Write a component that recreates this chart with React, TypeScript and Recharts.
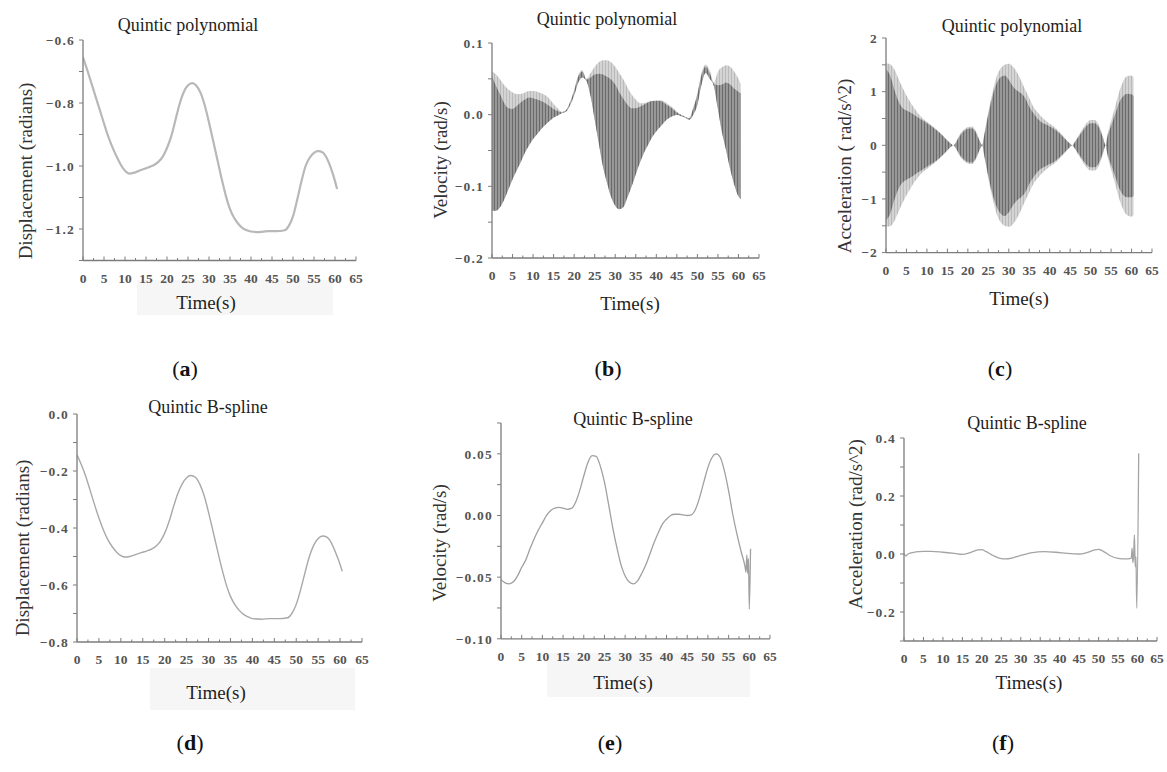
import React from 'react';
import { ComposedChart, Line, Area, XAxis, YAxis } from 'recharts';

const SERIF = "'Liberation Serif', 'Times New Roman', serif";
const AXIS = '#7c7c7c';
const TICK_TXT = '#555';

// time axis, shared by all six panels
const timeTicks = [0, 2.5, 5, 7.5, 10, 12.5, 15, 17.5, 20, 22.5, 25, 27.5, 30, 32.5, 35, 37.5, 40, 42.5, 45, 47.5, 50, 52.5, 55, 57.5, 60, 62.5, 65];

// (a) quintic polynomial displacement
const tA = [0, 1, 2, 3, 4, 5, 6, 7, 8, 9, 10, 11, 12, 13, 14, 15, 16, 17, 18, 19, 20, 21, 22, 23, 24, 25, 26, 27, 28, 29, 30, 31, 32, 33, 34, 35, 36, 37, 38, 39, 40, 42, 44, 46, 48, 49, 50, 51, 52, 53, 54, 55, 56, 57, 58, 59, 60, 60.5];
const dispPoly = [-0.655, -0.695, -0.737, -0.78, -0.822, -0.865, -0.906, -0.94, -0.97, -0.996, -1.015, -1.024, -1.022, -1.017, -1.012, -1.007, -1.002, -0.996, -0.986, -0.97, -0.943, -0.906, -0.855, -0.803, -0.765, -0.744, -0.737, -0.745, -0.768, -0.808, -0.862, -0.921, -0.98, -1.04, -1.094, -1.137, -1.165, -1.184, -1.197, -1.204, -1.208, -1.21, -1.207, -1.207, -1.204, -1.19, -1.16, -1.107, -1.049, -1.0, -0.973, -0.958, -0.953, -0.956, -0.974, -1.006, -1.048, -1.073];
const yTicksA = [-1.3, -1.2, -1.1, -1.0, -0.9, -0.8, -0.7, -0.6];
const yLabelsA = [-1.2, -1.0, -0.8, -0.6];

// (b) quintic polynomial velocity: dense oscillation envelopes
const tB = [0, 1, 2, 3, 4, 5, 6, 7, 8, 9, 10, 11, 12, 13, 14, 15, 16, 17, 18, 19, 20, 21, 22, 23, 24, 25, 26, 27, 28, 29, 30, 31, 32, 33, 34, 35, 36, 37, 38, 39, 40, 41, 42, 43, 44, 45, 46, 47, 48, 49, 50, 51, 52, 53, 54, 55, 56, 57, 58, 59, 60, 60.5];
const bLightTop = [0.061, 0.056, 0.049, 0.041, 0.035, 0.031, 0.029, 0.029, 0.031, 0.033, 0.033, 0.032, 0.03, 0.027, 0.022, 0.015, 0.009, 0.004, 0.006, 0.018, 0.035, 0.055, 0.062, 0.05, 0.058, 0.067, 0.073, 0.076, 0.076, 0.073, 0.067, 0.058, 0.049, 0.038, 0.028, 0.021, 0.016, 0.016, 0.018, 0.019, 0.02, 0.02, 0.018, 0.014, 0.01, 0.004, 0.0, -0.003, -0.005, 0.01, 0.03, 0.058, 0.07, 0.062, 0.045, 0.06, 0.066, 0.069, 0.067, 0.06, 0.05, 0.043];
const bDarkTop = [0.054, 0.04, 0.028, 0.016, 0.009, 0.008, 0.012, 0.017, 0.021, 0.024, 0.023, 0.021, 0.019, 0.016, 0.012, 0.008, 0.005, 0.003, 0.006, 0.017, 0.033, 0.053, 0.06, 0.049, 0.052, 0.056, 0.057, 0.056, 0.053, 0.049, 0.042, 0.031, 0.022, 0.014, 0.009, 0.009, 0.011, 0.014, 0.017, 0.019, 0.019, 0.019, 0.016, 0.012, 0.008, 0.003, 0.0, -0.003, -0.005, 0.009, 0.028, 0.055, 0.067, 0.058, 0.043, 0.041, 0.042, 0.045, 0.042, 0.036, 0.032, 0.03];
const bLower = [-0.134, -0.134, -0.129, -0.118, -0.104, -0.09, -0.078, -0.066, -0.053, -0.043, -0.034, -0.027, -0.02, -0.014, -0.009, -0.004, -0.001, 0.002, 0.004, 0.013, 0.027, 0.045, 0.052, 0.047, 0.026, -0.007, -0.04, -0.072, -0.095, -0.115, -0.127, -0.132, -0.129, -0.115, -0.1, -0.083, -0.067, -0.053, -0.042, -0.031, -0.023, -0.017, -0.01, -0.005, -0.002, 0.0, -0.002, -0.004, -0.007, 0.0, 0.014, 0.042, 0.058, 0.05, 0.04, 0.008, -0.025, -0.05, -0.076, -0.098, -0.114, -0.118];
const yTicksB = [-0.2, -0.15, -0.1, -0.05, 0, 0.05, 0.1];
const yLabelsB = [-0.2, -0.1, 0, 0.1];

// (c) quintic polynomial acceleration: dense oscillation envelopes
const tC = [0, 1, 2, 3, 4, 5, 6, 7, 8, 9, 10, 11, 12, 13, 14, 15, 16, 16.5, 17, 18, 19, 20, 21, 22, 23, 23.5, 24, 25, 26, 27, 28, 29, 30, 31, 32, 33, 34, 35, 36, 37, 38, 39, 40, 41, 42, 43, 44, 45, 45.5, 46, 47, 48, 49, 50, 51, 52, 53, 53.7, 54, 55, 56, 57, 58, 59, 60, 60.5];
const cOuterTop = [1.53, 1.51, 1.42, 1.25, 1.08, 0.93, 0.8, 0.68, 0.58, 0.5, 0.44, 0.38, 0.32, 0.25, 0.17, 0.09, 0.02, 0, 0.05, 0.2, 0.29, 0.34, 0.35, 0.26, 0.07, 0, 0.2, 0.62, 0.98, 1.27, 1.43, 1.5, 1.52, 1.47, 1.36, 1.21, 1.04, 0.88, 0.72, 0.62, 0.53, 0.46, 0.4, 0.35, 0.28, 0.2, 0.11, 0.03, 0, 0.05, 0.18, 0.3, 0.41, 0.47, 0.47, 0.38, 0.17, 0, 0.15, 0.45, 0.72, 1.0, 1.2, 1.29, 1.3, 1.26];
const cInnerTop = [1.42, 1.3, 1.05, 0.83, 0.7, 0.65, 0.61, 0.56, 0.51, 0.46, 0.41, 0.36, 0.3, 0.24, 0.17, 0.09, 0.02, 0, 0.04, 0.17, 0.26, 0.31, 0.32, 0.23, 0.06, 0, 0.18, 0.57, 0.9, 1.15, 1.27, 1.3, 1.22, 1.1, 1.02, 0.97, 0.88, 0.72, 0.6, 0.5, 0.43, 0.39, 0.35, 0.31, 0.25, 0.18, 0.1, 0.03, 0, 0.04, 0.15, 0.26, 0.36, 0.41, 0.41, 0.33, 0.14, 0, 0.12, 0.36, 0.58, 0.8, 0.92, 0.96, 0.95, 0.92];
const cInnerBot = [-1.4, -1.28, -1.03, -0.82, -0.7, -0.64, -0.6, -0.55, -0.5, -0.45, -0.4, -0.35, -0.3, -0.24, -0.17, -0.09, -0.02, 0, -0.04, -0.17, -0.26, -0.31, -0.32, -0.23, -0.06, 0, -0.18, -0.57, -0.9, -1.14, -1.27, -1.32, -1.25, -1.12, -1.03, -0.97, -0.88, -0.72, -0.6, -0.5, -0.43, -0.39, -0.35, -0.31, -0.25, -0.18, -0.1, -0.03, 0, -0.04, -0.15, -0.26, -0.36, -0.41, -0.41, -0.33, -0.14, 0, -0.12, -0.36, -0.58, -0.8, -0.93, -0.97, -0.97, -0.94];
const cOuterBot = [-1.52, -1.51, -1.42, -1.25, -1.08, -0.93, -0.8, -0.68, -0.58, -0.5, -0.44, -0.38, -0.32, -0.25, -0.17, -0.09, -0.02, 0, -0.05, -0.2, -0.29, -0.34, -0.35, -0.26, -0.07, 0, -0.2, -0.62, -0.98, -1.27, -1.43, -1.5, -1.52, -1.47, -1.36, -1.21, -1.04, -0.88, -0.72, -0.62, -0.53, -0.46, -0.4, -0.35, -0.28, -0.2, -0.11, -0.03, 0, -0.05, -0.18, -0.3, -0.41, -0.47, -0.47, -0.38, -0.17, 0, -0.15, -0.45, -0.72, -1.0, -1.2, -1.31, -1.33, -1.3];
const yTicksC = [-2, -1.5, -1, -0.5, 0, 0.5, 1, 1.5, 2];
const yLabelsC = [-2, -1, 0, 1, 2];

// (d) quintic B-spline displacement
const tD = [0, 1, 2, 3, 4, 5, 6, 7, 8, 9, 10, 11, 12, 13, 14, 15, 16, 17, 18, 19, 20, 21, 22, 23, 24, 25, 26, 27, 28, 29, 30, 31, 32, 33, 34, 35, 36, 37, 38, 39, 40, 42, 44, 46, 48, 49, 50, 51, 52, 53, 54, 55, 56, 57, 58, 59, 60, 60.5];
const dispSpline = [-0.143, -0.178, -0.219, -0.268, -0.318, -0.365, -0.406, -0.44, -0.465, -0.484, -0.497, -0.502, -0.5, -0.495, -0.49, -0.485, -0.48, -0.474, -0.464, -0.447, -0.418, -0.377, -0.326, -0.279, -0.245, -0.224, -0.216, -0.222, -0.246, -0.287, -0.345, -0.41, -0.476, -0.54, -0.597, -0.64, -0.669, -0.689, -0.703, -0.712, -0.718, -0.72, -0.718, -0.718, -0.715, -0.7, -0.668, -0.617, -0.557, -0.5, -0.46, -0.437, -0.428, -0.432, -0.452, -0.487, -0.528, -0.552];
const yTicksD = [-0.8, -0.7, -0.6, -0.5, -0.4, -0.3, -0.2, -0.1, 0];
const yLabelsD = [-0.8, -0.6, -0.4, -0.2, 0];

// (e) quintic B-spline velocity
const tE = [0, 1, 2, 3, 4, 5, 6, 7, 8, 9, 10, 11, 12, 13, 14, 15, 16, 17, 18, 19, 20, 21, 22, 23, 24, 25, 26, 27, 28, 29, 30, 31, 32, 33, 34, 35, 36, 37, 38, 39, 40, 41, 42, 43, 44, 45, 46, 47, 48, 49, 50, 51, 52, 53, 54, 55, 56, 57, 58, 59, 59.2, 59.4, 59.6, 59.8, 60.0, 60.3];
const velSpline = [-0.052, -0.0546, -0.0554, -0.0538, -0.049, -0.042, -0.036, -0.027, -0.019, -0.012, -0.006, 0, 0.004, 0.006, 0.0065, 0.006, 0.005, 0.0057, 0.0106, 0.02, 0.032, 0.043, 0.0486, 0.048, 0.04, 0.027, 0.009, -0.0098, -0.026, -0.04, -0.049, -0.054, -0.0554, -0.053, -0.047, -0.04, -0.031, -0.022, -0.014, -0.007, -0.003, 0, 0.001, 0.001, 0.0005, 0, 0.0005, 0.005, 0.0147, 0.027, 0.039, 0.047, 0.05, 0.047, 0.036, 0.02, 0.001, -0.015, -0.029, -0.042, -0.046, -0.032, -0.047, -0.035, -0.076, -0.027];
const yTicksE = [-0.1, -0.075, -0.05, -0.025, 0, 0.025, 0.05, 0.075];
const yLabelsE = [-0.1, -0.05, 0, 0.05];

// (f) quintic B-spline acceleration
const tF = [0, 0.5, 1, 3, 5, 7, 10, 13, 15, 17, 19, 20, 21, 23, 25, 26, 28, 30, 33, 36, 39, 42, 45, 47, 49, 50, 51, 53, 55, 57, 58, 58.4, 58.6, 58.8, 59.0, 59.2, 59.4, 59.6, 59.8, 60.3];
const accSpline = [0.002, -0.007, 0, 0.007, 0.009, 0.009, 0.006, 0.002, -0.001, 0.005, 0.014, 0.015, 0.009, -0.006, -0.016, -0.017, -0.013, -0.005, 0.005, 0.008, 0.006, 0.002, 0, 0.005, 0.014, 0.016, 0.011, -0.006, -0.015, -0.017, -0.016, -0.014, 0.02, -0.03, -0.005, 0.066, -0.044, -0.01, -0.187, 0.347];
const yTicksF = [-0.3, -0.2, -0.1, 0, 0.1, 0.2, 0.3, 0.4];
const yLabelsF = [-0.2, 0, 0.2, 0.4];

const dataA = tA.map((t, i) => ({ t, v: dispPoly[i] }));
const dataB = tB.map((t, i) => ({ t, light: [bLower[i], bLightTop[i]], dark: [bLower[i], bDarkTop[i]] }));
const dataC = tC.map((t, i) => ({ t, light: [cOuterBot[i], cOuterTop[i]], dark: [cInnerBot[i], cInnerTop[i]] }));
const dataD = tD.map((t, i) => ({ t, v: dispSpline[i] }));
const dataE = tE.map((t, i) => ({ t, v: velSpline[i] }));
const dataF = tF.map((t, i) => ({ t, v: accSpline[i] }));

const TimeTick = (props: any) => {
  const { x, y, payload } = props;
  const v = payload.value;
  const major = v % 5 === 0;
  return (
    <g>
      <line x1={x} x2={x} y1={y} y2={y - (major ? 4 : 2.5)} stroke={AXIS} strokeWidth={1} />
      {major ? (
        <text x={x} y={y + 22} textAnchor="middle" fontFamily={SERIF} fontSize={13.5} fontWeight="bold" fill={TICK_TXT}>
          {v}
        </text>
      ) : null}
    </g>
  );
};

const makeYTick = (labels: number[], digits: number) => (props: any) => {
  const { x, y, payload } = props;
  const v = payload.value;
  if (!labels.some((l) => Math.abs(l - v) < 1e-9)) return <g />;
  const s = v.toFixed(digits).replace('-', '\u2212');
  return (
    <text x={x} y={y} dy={4.8} textAnchor="end" fontFamily={SERIF} fontSize={13.5} fontWeight="bold" fill={TICK_TXT} letterSpacing={1.2}>
      {s}
    </text>
  );
};

type Box = { x0: number; x1: number; top: number; bottom: number };

function Panel(props: { box: Box; data: any[]; domain: number[]; yTicks: number[]; yLabels: number[]; digits: number; children: React.ReactNode }) {
  const { box, data, domain, yTicks, yLabels, digits, children } = props;
  return (
    <div style={{ position: 'absolute', left: box.x0 - 70, top: box.top - 10 }}>
      <ComposedChart width={box.x1 - box.x0 + 80} height={box.bottom - box.top + 50} data={data} margin={{ top: 10, right: 10, bottom: 0, left: 10 }}>
        <defs>
          <pattern id="stripeDark" width="3" height="8" patternUnits="userSpaceOnUse">
            <rect width="3" height="8" fill="#989898" />
            <rect width="1" height="8" fill="#6a6a6a" />
          </pattern>
          <pattern id="stripeLight" width="3" height="8" patternUnits="userSpaceOnUse">
            <rect width="3" height="8" fill="#d4d4d4" />
            <rect width="1" height="8" fill="#bababa" />
          </pattern>
        </defs>
        <XAxis
          dataKey="t"
          type="number"
          domain={[0, 65]}
          ticks={timeTicks}
          interval={0}
          height={40}
          tickSize={0}
          tickMargin={0}
          tickLine={false}
          tick={TimeTick}
          axisLine={{ stroke: AXIS, strokeWidth: 1.3 }}
          allowDataOverflow
        />
        <YAxis
          type="number"
          domain={domain}
          ticks={yTicks}
          interval={0}
          width={60}
          tickSize={4}
          tickMargin={4}
          tick={makeYTick(yLabels, digits)}
          tickLine={{ stroke: AXIS }}
          axisLine={{ stroke: AXIS, strokeWidth: 1.3 }}
          allowDataOverflow
        />
        {children}
      </ComposedChart>
    </div>
  );
}

function Txt(props: { x: number; y: number; size: number; rotate?: boolean; color?: string; children: React.ReactNode }) {
  const { x, y, size, rotate, color, children } = props;
  return (
    <div
      style={{
        position: 'absolute',
        left: x,
        top: y,
        transform: `translate(-50%, -50%)${rotate ? ' rotate(-90deg)' : ''}`,
        fontFamily: SERIF,
        fontSize: size,
        lineHeight: 1,
        whiteSpace: 'nowrap',
        color: color || '#1e1e1e',
      }}
    >
      {children}
    </div>
  );
}

const Shade = ({ l, t, w, h }: { l: number; t: number; w: number; h: number }) => (
  <div style={{ position: 'absolute', left: l, top: t, width: w, height: h, background: '#f6f6f6' }} />
);

export default function App() {
  return (
    <div style={{ position: 'absolute', left: 0, top: 0, width: 1167, height: 772, background: '#fff', overflow: 'hidden' }}>
      <Shade l={137} t={280} w={196} h={35} />
      <Shade l={150} t={668} w={205} h={42} />
      <Shade l={547} t={653} w={203} h={44} />

      <Panel box={{ x0: 83, x1: 356, top: 40, bottom: 260.5 }} data={dataA} domain={[-1.3, -0.6]} yTicks={yTicksA} yLabels={yLabelsA} digits={1}>
        <Line dataKey="v" type="monotone" stroke="#b8b8b8" strokeWidth={2.2} dot={false} isAnimationActive={false} />
      </Panel>
      <Panel box={{ x0: 492, x1: 759, top: 43.3, bottom: 258.3 }} data={dataB} domain={[-0.2, 0.1]} yTicks={yTicksB} yLabels={yLabelsB} digits={1}>
        <Area dataKey="light" type="monotone" stroke="none" fill="url(#stripeLight)" fillOpacity={1} isAnimationActive={false} />
        <Area dataKey="dark" type="monotone" stroke="none" fill="url(#stripeDark)" fillOpacity={1} isAnimationActive={false} />
      </Panel>
      <Panel box={{ x0: 886, x1: 1152, top: 37.7, bottom: 252.3 }} data={dataC} domain={[-2, 2]} yTicks={yTicksC} yLabels={yLabelsC} digits={0}>
        <Area dataKey="light" type="monotone" stroke="none" fill="url(#stripeLight)" fillOpacity={1} isAnimationActive={false} />
        <Area dataKey="dark" type="monotone" stroke="none" fill="url(#stripeDark)" fillOpacity={1} isAnimationActive={false} />
      </Panel>
      <Panel box={{ x0: 77, x1: 362, top: 414.3, bottom: 642.3 }} data={dataD} domain={[-0.8, 0]} yTicks={yTicksD} yLabels={yLabelsD} digits={1}>
        <Line dataKey="v" type="monotone" stroke="#a8a8a8" strokeWidth={1.4} dot={false} isAnimationActive={false} />
      </Panel>
      <Panel box={{ x0: 501, x1: 770, top: 422.5, bottom: 638.3 }} data={dataE} domain={[-0.1, 0.075]} yTicks={yTicksE} yLabels={yLabelsE} digits={2}>
        <Line dataKey="v" type="monotone" stroke="#a0a0a0" strokeWidth={1.3} dot={false} isAnimationActive={false} />
      </Panel>
      <Panel box={{ x0: 904, x1: 1157, top: 437.7, bottom: 640.7 }} data={dataF} domain={[-0.3, 0.4]} yTicks={yTicksF} yLabels={yLabelsF} digits={1}>
        <Line dataKey="v" type="monotone" stroke="#a4a4a4" strokeWidth={1.3} dot={false} isAnimationActive={false} />
      </Panel>

      <Txt x={188} y={25} size={18}>Quintic polynomial</Txt>
      <Txt x={607} y={19} size={18}>Quintic polynomial</Txt>
      <Txt x={1012} y={26} size={18}>Quintic polynomial</Txt>
      <Txt x={208} y={407} size={18}>Quintic B-spline</Txt>
      <Txt x={633} y={419} size={18}>Quintic B-spline</Txt>
      <Txt x={1027} y={423} size={18}>Quintic B-spline</Txt>

      <Txt x={25} y={171} size={19} rotate color="#333">Displacement (radians)</Txt>
      <Txt x={440} y={160} size={19} rotate color="#333">Velocity (rad/s)</Txt>
      <Txt x={844} y={166} size={19} rotate color="#333">Acceleration ( rad/s^2)</Txt>
      <Txt x={22} y={548} size={19} rotate color="#333">Displacement (radians)</Txt>
      <Txt x={439} y={543} size={19} rotate color="#333">Velocity (rad/s)</Txt>
      <Txt x={855} y={524} size={19} rotate color="#333">Acceleration (rad/s^2)</Txt>

      <Txt x={206} y={302} size={19}>Time(s)</Txt>
      <Txt x={630} y={303} size={19}>Time(s)</Txt>
      <Txt x={1019} y={298} size={19}>Time(s)</Txt>
      <Txt x={216} y={692} size={19}>Time(s)</Txt>
      <Txt x={623} y={682} size={19}>Time(s)</Txt>
      <Txt x={1029} y={682} size={19}>Times(s)</Txt>

      <Txt x={185} y={369} size={22} color="#111">(<b>a</b>)</Txt>
      <Txt x={608} y={369} size={22} color="#111">(<b>b</b>)</Txt>
      <Txt x={1000} y={369} size={22} color="#111">(<b>c</b>)</Txt>
      <Txt x={190} y={743} size={22} color="#111">(<b>d</b>)</Txt>
      <Txt x={610} y={743} size={22} color="#111">(<b>e</b>)</Txt>
      <Txt x={1003} y={743} size={22} color="#111">(<b>f</b>)</Txt>
    </div>
  );
}
